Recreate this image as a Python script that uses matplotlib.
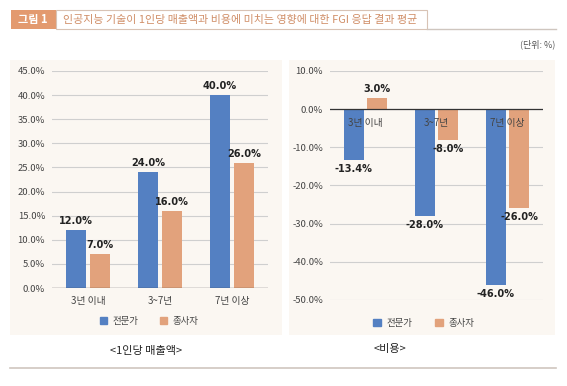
import numpy as np
import matplotlib.pyplot as plt
from matplotlib.patches import Rectangle
from matplotlib.lines import Line2D

plt.rcParams['font.family'] = ['Noto Sans CJK KR', 'DejaVu Sans']

categories = ['3년 이내', '3~7년', '7년 이상']
series = ['전문가', '종사자']
sales_expert = [12.0, 24.0, 40.0]
sales_worker = [7.0, 16.0, 26.0]
cost_expert = [-13.4, -28.0, -46.0]
cost_worker = [3.0, -8.0, -26.0]

title_tag = '그림 1'
title = '인공지능 기술이 1인당 매출액과 비용에 미치는 영향에 대한 FGI 응답 결과 평균'
unit = '(단위: %)'
captions = ['<1인당 매출액>', '<비용>']

blue = '#5480c2'
orange = '#e2a27c'
panel_bg = '#fbf7f2'
W, H = 567, 386

fig = plt.figure(figsize=(W / 100, H / 100), dpi=100)
fig.patch.set_facecolor('white')

def px(x0, y0, w, h):
    return [x0 / W, 1 - (y0 + h) / H, w / W, h / H]

def frect(x0, y0, w, h, **kw):
    r = Rectangle((x0 / W, 1 - (y0 + h) / H), w / W, h / H, transform=fig.transFigure, zorder=-1, **kw)
    fig.patches.append(r)

# header
frect(11, 10, 45, 19, facecolor='#e39a6f', edgecolor='none')
frect(56, 10, 371, 19, facecolor='white', edgecolor='#d8c3b5', linewidth=0.8)
fig.text(33 / W, 1 - 19.5 / H, title_tag, color='white', fontsize=8, fontweight='bold', ha='center', va='center')
fig.text(63 / W, 1 - 19.5 / H, title, color='#d08e67', fontsize=7.9, ha='left', va='center')
fig.add_artist(Line2D([427 / W, 556 / W], [1 - 29 / H, 1 - 29 / H], color='#cfc6bf', linewidth=1.0))
fig.text(555 / W, 1 - 44 / H, unit, color='#555555', fontsize=6.5, ha='right', va='center')

# panels
frect(10, 60, 272, 275, facecolor=panel_bg, edgecolor='none')
frect(289, 60, 266, 275, facecolor=panel_bg, edgecolor='none')
fig.add_artist(Line2D([10 / W, 556 / W], [1 - 368 / H, 1 - 368 / H], color='#cfc6bf', linewidth=1.2))
fig.text(146 / W, 1 - 351 / H, captions[0], color='#222222', fontsize=8, fontweight='medium', ha='center', va='center')
fig.text(390 / W, 1 - 349 / H, captions[1], color='#222222', fontsize=8, fontweight='medium', ha='center', va='center')

x = np.arange(len(categories))
bw = 0.28
off = 0.165
lab_font = dict(family=['DejaVu Sans'], fontstretch='condensed', fontweight='bold', fontsize=7.8, color='#222222')


def style(ax, lo, hi, step):
    ax.set_facecolor('none')
    ax.set_ylim(lo, hi)
    ax.set_xlim(-0.5, 2.5)
    ax.set_yticks(np.arange(lo, hi + 0.1, step))
    ax.set_yticklabels([f'{v:.1f}%' for v in np.arange(lo, hi + 0.1, step)])
    ax.yaxis.grid(True, color='#cfcfcf', linewidth=0.8)
    ax.set_axisbelow(True)
    for s in ax.spines.values():
        s.set_visible(False)
    ax.tick_params(axis='both', length=0, labelsize=6.8, labelcolor='#444444', pad=5)
    ax.axhline(0, color='#333333', linewidth=0.9, zorder=3)


# left chart
ax1 = fig.add_axes(px(52, 71, 216, 217))
style(ax1, 0, 45, 5)
b1 = ax1.bar(x - off, sales_expert, bw, color=blue, zorder=2)
b2 = ax1.bar(x + off, sales_worker, bw, color=orange, zorder=2)
for bars, vals in ((b1, sales_expert), (b2, sales_worker)):
    for b, v in zip(bars, vals):
        ax1.text(b.get_x() + b.get_width() / 2, v + 0.8, f'{v:.1f}%', ha='center', va='bottom', **lab_font)
ax1.set_xticks(x)
ax1.set_xticklabels(categories, fontsize=7)
ax1.tick_params(axis='x', pad=6)
ax1.legend(handles=[Rectangle((0, 0), 1, 1, color=blue), Rectangle((0, 0), 1, 1, color=orange)],
           labels=series, loc='upper center', bbox_to_anchor=(0.45, -0.095), ncol=2, frameon=False,
           fontsize=6.8, handlelength=0.8, handleheight=0.8, columnspacing=2.2, handletextpad=0.6,
           labelcolor='#444444')

# right chart
ax2 = fig.add_axes(px(330, 71, 213, 229))
style(ax2, -50, 10, 10)
c1 = ax2.bar(x - off, cost_expert, bw, color=blue, zorder=2)
c2 = ax2.bar(x + off, cost_worker, bw, color=orange, zorder=2)
for bars, vals in ((c1, cost_expert), (c2, cost_worker)):
    for b, v in zip(bars, vals):
        if v >= 0:
            ax2.text(b.get_x() + b.get_width() / 2, v + 1, f'{v:.1f}%', ha='center', va='bottom', **lab_font)
        else:
            ax2.text(b.get_x() + b.get_width() / 2, v - 1, f'{v:.1f}%', ha='center', va='top', **lab_font)
ax2.set_xticks([])
for i, c in enumerate(categories):
    ax2.text(i, -2.4, c, ha='center', va='top', fontsize=7, color='#444444', zorder=4)
ax2.legend(handles=[Rectangle((0, 0), 1, 1, color=blue), Rectangle((0, 0), 1, 1, color=orange)],
           labels=series, loc='upper center', bbox_to_anchor=(0.44, -0.045), ncol=2, frameon=False,
           fontsize=6.8, handlelength=0.8, handleheight=0.8, columnspacing=2.4, handletextpad=0.6,
           labelcolor='#444444')

fig.savefig('out.png', dpi=100, facecolor='white')
